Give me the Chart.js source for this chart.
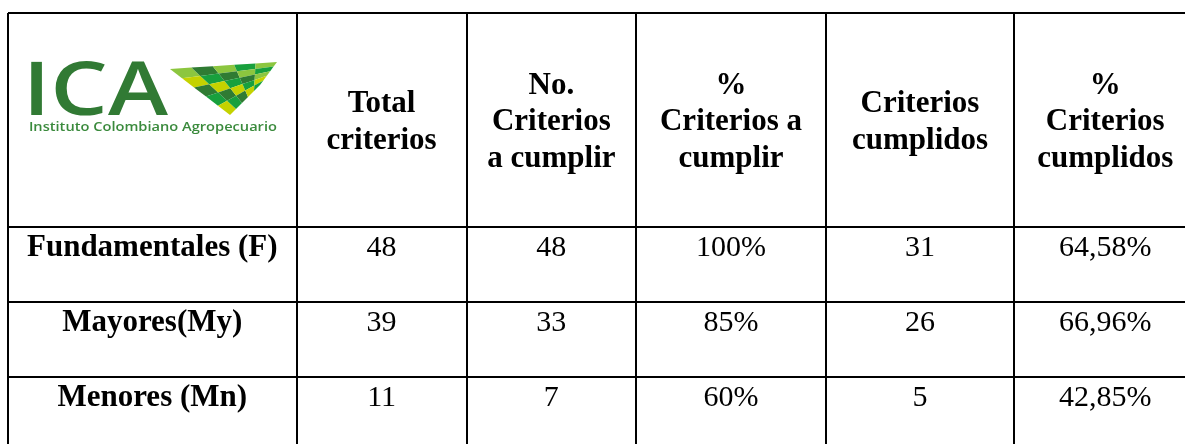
<!DOCTYPE html>
<html>
<head>
<meta charset="utf-8">
<script src="https://cdn.jsdelivr.net/npm/chart.js@4.4.1/dist/chart.umd.min.js"></script>
<style>
  html, body { margin: 0; padding: 0; background: #ffffff; }
  #wrap { width: 1185px; height: 444px; position: relative; }
</style>
</head>
<body>
<div id="wrap"><canvas id="criteriosTable"></canvas></div>
<script>
// table values
const categories = ['Fundamentales (F)', 'Mayores(My)', 'Menores (Mn)'];
const columnHeaders = [
    ['Total', 'criterios'],
    ['No.', 'Criterios', 'a cumplir'],
    ['%', 'Criterios a', 'cumplir'],
    ['Criterios', 'cumplidos'],
    ['%', 'Criterios', 'cumplidos']
];
const totalCriterios = [48, 39, 11];
const criteriosACumplir = [48, 33, 7];
const pctACumplir = [100, 85, 60];
const criteriosCumplidos = [31, 26, 5];
const pctCumplidos = [64.58, 66.96, 42.85];

// layout (table units = pixels from the top-left corner of the table)
const colEdges = [0, 288.5, 458.7, 628, 818, 1006, 1188.5];
const rowEdges = [0, 213.7, 288.7, 363.7, 438.7];

function pct(v, dec) {
    return v.toFixed(dec).replace('.', ',') + '%';
}

const columns = [
    categories,
    totalCriterios.map(String),
    criteriosACumplir.map(String),
    pctACumplir.map(v => pct(v, 0)),
    criteriosCumplidos.map(String),
    pctCumplidos.map(v => pct(v, 2))
];

const datasets = columns.map(function (texts, c) {
    return {
        label: c === 0 ? 'Criterio' : columnHeaders[c - 1].join(' '),
        texts: texts,
        bold: c === 0,
        pointRadius: 0,
        data: texts.map((t, r) => ({ x: (colEdges[c] + colEdges[c + 1]) / 2, y: rowEdges[r + 1] }))
    };
});

// squeeze a text so its ink box fits left..right, top..baseline
function fitText(c, text, left, right, top, baseline) {
    const m = c.measureText(text);
    const sx = (right - left) / (m.actualBoundingBoxLeft + m.actualBoundingBoxRight);
    const sy = (baseline - top) / m.actualBoundingBoxAscent;
    c.save();
    c.translate(left + m.actualBoundingBoxLeft * sx, baseline);
    c.scale(sx, sy);
    c.fillText(text, 0, 0);
    c.restore();
}

const tableText = {
    id: 'tableText',
    afterDatasetsDraw(chart) {
        const c = chart.ctx;
        const xs = chart.scales.x, ys = chart.scales.y;
        c.save();
        c.fillStyle = '#000000';
        c.textAlign = 'center';
        c.textBaseline = 'alphabetic';

        // body cells
        chart.data.datasets.forEach(function (ds, i) {
            c.font = ds.bold ? 'bold 31px "Liberation Serif"' : '30px "Liberation Serif"';
            chart.getDatasetMeta(i).data.forEach(function (pt, j) {
                c.fillText(ds.texts[j], pt.x, pt.y + 29.5);
            });
        });

        // header cells
        c.font = 'bold 31px "Liberation Serif"';
        const cy = ys.getPixelForValue(rowEdges[1] / 2);
        columnHeaders.forEach(function (lines, k) {
            const cx = xs.getPixelForValue((colEdges[k + 1] + colEdges[k + 2]) / 2);
            lines.forEach(function (line, i) {
                c.fillText(line, cx, cy + 10.5 + (i - (lines.length - 1) / 2) * 36.3);
            });
        });

        // ICA logo in the corner cell
        const ox = xs.getPixelForValue(0), oy = ys.getPixelForValue(0);
        c.textAlign = 'left';
        c.fillStyle = '#317a34';
        c.font = '600 74px "Open Sans"';
        fitText(c, 'ICA', ox + 22, ox + 160, oy + 48, oy + 101.5);
        c.fillStyle = '#3a8a3c';
        c.font = '600 13px "Open Sans"';
        fitText(c, 'Instituto Colombiano Agropecuario', ox + 22, ox + 269, oy + 108.5, oy + 117.5);

        // tiled field graphic
        const P00 = [ox + 162, oy + 56], P10 = [ox + 269, oy + 49];
        const P11 = [ox + 252, oy + 72], P01 = [ox + 222, oy + 102];
        const pal = { d: '#2f7b33', g: '#18a03d', l: '#8cc63f', y: '#c4d200' };
        const pattern = ['ldlgl', 'ygdlg', 'dygdl', 'gdygy', 'ygdyg'];
        const n = 5;
        function at(u, v) {
            return [
                (1 - u) * (1 - v) * P00[0] + u * (1 - v) * P10[0] + u * v * P11[0] + (1 - u) * v * P01[0],
                (1 - u) * (1 - v) * P00[1] + u * (1 - v) * P10[1] + u * v * P11[1] + (1 - u) * v * P01[1]
            ];
        }
        for (let r = 0; r < n; r++) {
            for (let q = 0; q < n; q++) {
                const a = at(q / n, r / n), b = at((q + 1) / n, r / n);
                const d = at((q + 1) / n, (r + 1) / n), e = at(q / n, (r + 1) / n);
                c.beginPath();
                c.moveTo(a[0], a[1]);
                c.lineTo(b[0], b[1]);
                c.lineTo(d[0], d[1]);
                c.lineTo(e[0], e[1]);
                c.closePath();
                c.fillStyle = pal[pattern[r][q]];
                c.fill();
            }
        }
        c.restore();
    }
};

const ctx = document.getElementById('criteriosTable');
new Chart(ctx, {
    type: 'scatter',
    data: { datasets: datasets },
    options: {
        responsive: true,
        maintainAspectRatio: false,
        animation: false,
        events: [],
        layout: { padding: { left: 8, top: 13, right: 0, bottom: 0 } },
        plugins: {
            legend: { display: false },
            tooltip: { enabled: false }
        },
        scales: {
            x: {
                type: 'linear',
                min: 0,
                max: 1177,
                afterBuildTicks: function (axis) {
                    axis.ticks = colEdges.slice(0, 6).map(v => ({ value: v }));
                },
                ticks: { display: false },
                border: { display: false },
                grid: { color: '#000000', lineWidth: 2, drawTicks: false }
            },
            y: {
                type: 'linear',
                reverse: true,
                min: 0,
                max: 431,
                afterBuildTicks: function (axis) {
                    axis.ticks = rowEdges.slice(0, 4).map(v => ({ value: v }));
                },
                ticks: { display: false },
                border: { display: false },
                grid: { color: '#000000', lineWidth: 2, drawTicks: false }
            }
        }
    },
    plugins: [tableText]
});
</script>
</body>
</html>
